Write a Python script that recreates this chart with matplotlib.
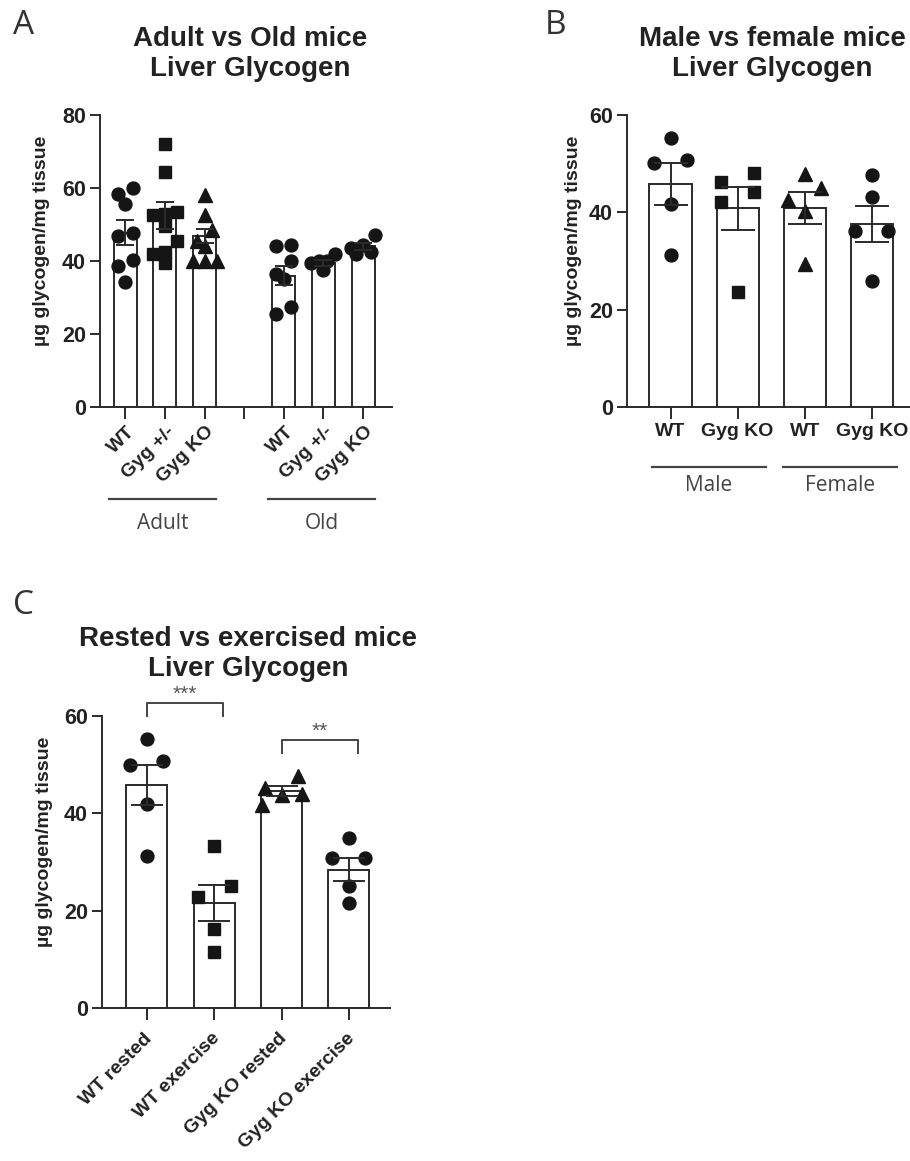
import matplotlib
matplotlib.use('Agg')
import matplotlib.pyplot as plt
from matplotlib.transforms import ScaledTranslation
import numpy as np

plt.rcParams['font.family'] = ['Liberation Sans', 'DejaVu Sans']
plt.rcParams['font.weight'] = 'bold'

# ---- data ----
ylabel = 'µg glycogen/mg tissue'

# panel A: adult vs old
a_title = 'Adult vs Old mice\nLiver Glycogen'
a_labels = ['WT', 'Gyg +/-', 'Gyg KO', 'WT', 'Gyg +/-', 'Gyg KO']
a_groups = ['Adult', 'Old']
a_means = [47.8, 52.5, 46.8, 36.0, 39.5, 44.0]
a_sem = [3.3, 3.7, 2.0, 2.5, 0.9, 0.9]
a_points = [
    [58.3, 60.0, 55.7, 47.7, 46.8, 40.2, 38.5, 34.2],
    [72.0, 64.5, 53.5, 53.0, 52.5, 49.5, 45.5, 42.5, 42.0, 39.5],
    [58.0, 52.5, 48.5, 45.5, 44.0, 40.0, 40.0, 40.0],
    [44.5, 44.0, 40.0, 36.5, 35.0, 27.5, 25.5],
    [42.0, 40.0, 40.0, 39.5, 37.5],
    [47.0, 44.5, 43.5, 42.5, 42.0],
]

# panel B: male vs female
b_title = 'Male vs female mice\nLiver Glycogen'
b_labels = ['WT', 'Gyg KO', 'WT', 'Gyg KO']
b_groups = ['Male', 'Female']
b_means = [45.8, 40.8, 40.9, 37.6]
b_sem = [4.3, 4.4, 3.2, 3.6]
b_points = [
    [55.2, 50.2, 50.8, 41.8, 31.2],
    [48.1, 46.3, 44.2, 42.2, 23.7],
    [47.9, 45.1, 42.5, 40.3, 29.4],
    [47.7, 43.2, 36.1, 36.1, 25.9],
]

# panel C: rested vs exercised
c_title = 'Rested vs exercised mice\nLiver Glycogen'
c_labels = ['WT rested', 'WT exercise', 'Gyg KO rested', 'Gyg KO exercise']
c_means = [45.8, 21.6, 44.6, 28.4]
c_sem = [4.1, 3.7, 1.1, 2.4]
c_points = [
    [55.2, 49.9, 50.8, 41.9, 31.3],
    [33.2, 25.0, 22.8, 16.3, 11.6],
    [47.7, 45.3, 43.9, 43.8, 41.7],
    [34.9, 30.8, 30.8, 25.0, 21.5],
]
c_sig = [(0, 1, '***'), (2, 3, '**')]

# styles
dark = '#2b2b2b'
a_marks = ['o', 's', '^', 'o', 'o', 'o']
b_marks = ['o', 's', '^', 'o']
c_marks = ['o', 's', '^', 'o']
msize = {'o': 9.3, 's': 8.3, '^': 9.8}


def spread(ax, xc, vals, thresh, gap, span):
    # GraphPad-like scatter: points of similar value share a row,
    # rows are spread symmetrically around the bar centre (pixel units)
    tr = ax.transData
    ppx = tr.transform((1, 0))[0] - tr.transform((0, 0))[0]
    ypx = [tr.transform((xc, v))[1] for v in vals]
    order = sorted(range(len(vals)), key=lambda i: -vals[i])
    rows, cur = [], [order[0]]
    for i in order[1:]:
        if ypx[cur[0]] - ypx[i] < thresh:
            cur.append(i)
        else:
            rows.append(cur)
            cur = [i]
    rows.append(cur)
    out = np.zeros(len(vals))
    for row in rows:
        row = sorted(row, key=lambda i: vals[i])  # low on the left
        n = len(row)
        g = gap if n < 2 else min(gap, span / (n - 1))
        for k, i in enumerate(row):
            out[i] = xc + (k - (n - 1) / 2) * g / ppx
    return out


def style_axes(ax, ymax):
    for s in ['top', 'right']:
        ax.spines[s].set_visible(False)
    for s in ['left', 'bottom']:
        ax.spines[s].set_linewidth(1.4)
        ax.spines[s].set_color(dark)
    ax.set_ylim(0, ymax)
    ax.set_yticks(np.arange(0, ymax + 1, 20))
    ax.tick_params(axis='y', length=7, width=1.4, color=dark, labelsize=15.5,
                   labelcolor='#222', pad=3)
    ax.tick_params(axis='x', length=8.5, width=1.4, color=dark, labelsize=14,
                   labelcolor='#222', pad=3)


def draw_bars(ax, xs, means, sem, points, marks, width, gap, span, cap):
    ax.bar(xs, means, width=width, color='white', edgecolor=dark,
           linewidth=1.4, zorder=1)
    for x, pts, m in zip(xs, points, marks):
        px = spread(ax, x, pts, 13, gap, span)
        ax.plot(px, pts, linestyle='none', marker=m, ms=msize[m],
                color='#151515', mec='#151515', zorder=2, clip_on=False)
    ax.errorbar(xs, means, yerr=sem, fmt='none', ecolor=dark, elinewidth=1.4,
                capsize=cap, capthick=1.4, zorder=3)


def shift_labels(ax, dx, dy):
    # nudge rotated tick labels (offsets in pixels at 100 dpi)
    off = ScaledTranslation(dx / 100, -dy / 100, fig.dpi_scale_trans)
    for lbl in ax.get_xticklabels():
        lbl.set_transform(lbl.get_transform() + off)


def group_line(ax, x0, x1, y_line, y_text, label):
    tr = ax.get_xaxis_transform()
    ax.plot([x0, x1], [y_line, y_line], color='#444', lw=1.6,
            transform=tr, clip_on=False)
    ax.text((x0 + x1) / 2, y_text, label, transform=tr, ha='center',
            va='center', fontsize=15, fontweight='normal', color='#444',
            family=['Open Sans', 'DejaVu Sans'])


fig = plt.figure(figsize=(9.1, 11.61), dpi=100)
W, H = 910.0, 1161.0

# ---- panel A ----
axA = fig.add_axes([100 / W, 1 - 407 / H, 292 / W, 292 / H])
axA.set_xlim(-0.64, 6.73)
style_axes(axA, 80)
xa = [0, 1, 2, 4, 5, 6]
draw_bars(axA, xa, a_means, a_sem, a_points, a_marks, 0.58, 15, 24, 6.5)
axA.set_xticks([0, 1, 2, 3, 4, 5, 6])
axA.set_xticklabels(a_labels[:3] + [''] + a_labels[3:], rotation=45,
                    ha='right', va='center', rotation_mode='anchor')
shift_labels(axA, 7, 6)
group_line(axA, -0.42, 2.29, -0.315, -0.40, a_groups[0])
group_line(axA, 3.6, 6.3, -0.315, -0.40, a_groups[1])

# ---- panel B ----
axB = fig.add_axes([627 / W, 1 - 407 / H, 283 / W, 292 / H])
axB.set_xlim(-0.65, 3.57)
style_axes(axB, 60)
xb = [0, 1, 2, 3]
draw_bars(axB, xb, b_means, b_sem, b_points, b_marks, 0.63, 33, 40, 12)
axB.set_xticks(xb)
axB.set_xticklabels(b_labels)
group_line(axB, -0.28, 1.42, -0.205, -0.27, b_groups[0])
group_line(axB, 1.67, 3.37, -0.205, -0.27, b_groups[1])

# ---- panel C ----
axC = fig.add_axes([101.7 / W, 1 - 1008 / H, 288.3 / W, 292 / H])
axC.set_xlim(-0.67, 3.61)
style_axes(axC, 60)
xc = [0, 1, 2, 3]
draw_bars(axC, xc, c_means, c_sem, c_points, c_marks, 0.61, 33, 40, 11.5)
axC.set_xticks(xc)
axC.set_xticklabels(c_labels, rotation=45, ha='right', va='center',
                    rotation_mode='anchor')
shift_labels(axC, 3, 12)
sig_y = [62.7, 55.1]
for (i, j, stars), yb in zip(c_sig, sig_y):
    x1 = j + 0.13
    axC.plot([i, i, x1, x1], [yb - 2.6, yb, yb, yb - 2.6], color='#444',
             lw=1.4, clip_on=False)
    axC.text((i + x1) / 2, yb - 0.3, stars, ha='center', va='bottom',
             fontsize=15, fontweight='normal', color='#555')

# ---- titles, y labels, panel letters ----
for ax in [axA, axB, axC]:
    ax.text(-0.20 if ax is not axB else -0.19, 0.57, ylabel,
            transform=ax.transAxes, rotation=90, ha='center', va='center',
            fontsize=14, color='#222')

fig.text(250 / W, 1 - 54 / H, a_title, ha='center', va='center',
         fontsize=20, color='#222', linespacing=1.15)
fig.text(772 / W, 1 - 54 / H, b_title, ha='center', va='center',
         fontsize=20, color='#222', linespacing=1.15)
fig.text(248 / W, 1 - 654 / H, c_title, ha='center', va='center',
         fontsize=20, color='#222', linespacing=1.15)

for lx, ly, letter in [(13, 25, 'A'), (545, 25, 'B'), (13, 605, 'C')]:
    fig.text(lx / W, 1 - ly / H, letter, ha='left', va='center', fontsize=24,
             fontweight='normal', color='#333',
             family=['Open Sans', 'DejaVu Sans'])

fig.savefig('out.png', dpi=100, facecolor='white')
